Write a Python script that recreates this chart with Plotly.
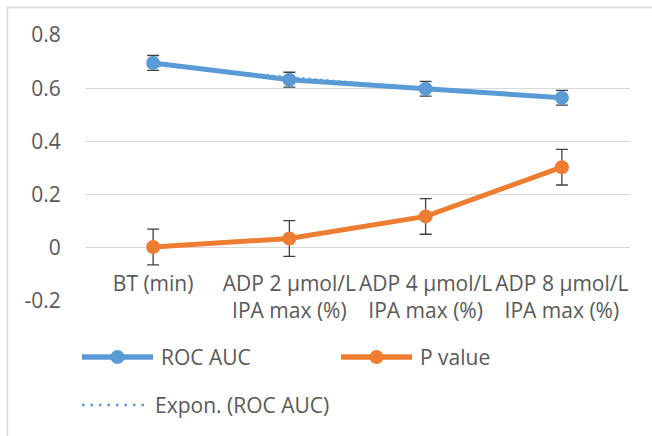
import numpy as np
import plotly.graph_objects as go

categories = ["BT (min)", "ADP 2 µmol/L<br>IPA max (%)", "ADP 4 µmol/L<br>IPA max (%)", "ADP 8 µmol/L<br>IPA max (%)"]
roc_auc = [0.695, 0.632, 0.598, 0.564]
roc_err = [0.028, 0.028, 0.028, 0.028]
p_value = [0.003, 0.035, 0.118, 0.303]
p_err = [0.067, 0.067, 0.067, 0.067]
y_ticks = [-0.2, 0, 0.2, 0.4, 0.6, 0.8]
y_tick_text = ["-0.2", "0", "0.2", "0.4", "0.6", "0.8"]
legend_names = ["ROC AUC", "P value", "Expon. (ROC AUC)"]

# Exponential trendline (Excel "Expon.") fitted on ROC AUC
xs = np.arange(1, len(roc_auc) + 1)
b, a = np.polyfit(xs, np.log(roc_auc), 1)
roc_trend = list(np.exp(a + b * xs))

BLUE = "#5B9BD5"
ORANGE = "#ED7D31"
TXT = "#595959"
FONT = "Open Sans"
FS = 21

fig = go.Figure()
fig.add_trace(go.Scatter(
    x=categories, y=roc_auc, name=legend_names[0], mode="lines+markers",
    line=dict(color=BLUE, width=5), marker=dict(color=BLUE, size=14),
    error_y=dict(type="data", array=roc_err, color="#404040", thickness=1.3, width=6),
    showlegend=False,
))
fig.add_trace(go.Scatter(
    x=categories, y=p_value, name=legend_names[1], mode="lines+markers",
    line=dict(color=ORANGE, width=5), marker=dict(color=ORANGE, size=14),
    error_y=dict(type="data", array=p_err, color="#404040", thickness=1.3, width=6),
    showlegend=False,
))
fig.add_trace(go.Scatter(
    x=categories, y=roc_trend, name=legend_names[2], mode="lines",
    line=dict(color=BLUE, width=2.2, dash="2px,4px", shape="spline"),
    showlegend=False,
))

L, R, T, B = 85, 22, 35, 135
W, H = 652, 436
pw, ph = W - L - R, H - T - B

def px_x(x):
    return (x - L) / pw

def px_y(y):
    return (H - B - y) / ph

fig.update_layout(
    width=W, height=H,
    margin=dict(l=L, r=R, t=T, b=B, pad=0),
    paper_bgcolor="white", plot_bgcolor="white",
    font=dict(family=FONT, size=FS, color=TXT),
    showlegend=False,
    xaxis=dict(
        type="category", range=[-0.5, 3.5], showgrid=False, showline=False, zeroline=False,
        ticks="", anchor="free", position=0.195, ticklabelstandoff=20,
        tickfont=dict(family=FONT, size=FS, color=TXT),
    ),
    yaxis=dict(
        range=[-0.2, 0.8], tickvals=y_ticks, ticktext=y_tick_text,
        showgrid=True, gridcolor="#D9D9D9", gridwidth=1.3, zeroline=False,
        showline=False, ticks="outside", ticklen=19, tickcolor="rgba(0,0,0,0)",
        tickfont=dict(family=FONT, size=FS, color=TXT),
    ),
)

# chart frame
fig.add_shape(type="rect", xref="paper", yref="paper",
              x0=px_x(7.5), x1=px_x(700), y0=px_y(480), y1=px_y(7.5),
              line=dict(color="#D9D9D9", width=1.5), fillcolor="rgba(0,0,0,0)", layer="above")

# legend (drawn)
legend_items = [
    (legend_names[0], BLUE, "solid", 82, 153, 357),
    (legend_names[1], ORANGE, "solid", 341, 412, 357),
    (legend_names[2], BLUE, "dot", 82, 147, 405),
]
for name, col, dash, x0, x1, yy in legend_items:
    fig.add_shape(type="line", xref="paper", yref="paper",
                  x0=px_x(x0), x1=px_x(x1), y0=px_y(yy), y1=px_y(yy),
                  line=dict(color=col, width=5.5 if dash == "solid" else 2.5,
                            dash="solid" if dash == "solid" else "2.5px,6px"))
    if dash == "solid":
        xm = (x0 + x1) / 2
        fig.add_shape(type="circle", xref="paper", yref="paper",
                      xsizemode="pixel", ysizemode="pixel",
                      xanchor=px_x(xm), yanchor=px_y(yy),
                      x0=-7, x1=7, y0=-7, y1=7,
                      line=dict(color=col, width=0), fillcolor=col)
    fig.add_annotation(xref="paper", yref="paper", x=px_x(x1 + 6), y=px_y(yy),
                       text=name, showarrow=False, xanchor="left", yanchor="middle",
                       font=dict(family=FONT, size=FS, color=TXT))

fig.write_html("out.html", config={"displayModeBar": False},
               post_script="document.body.style.margin='0';")
